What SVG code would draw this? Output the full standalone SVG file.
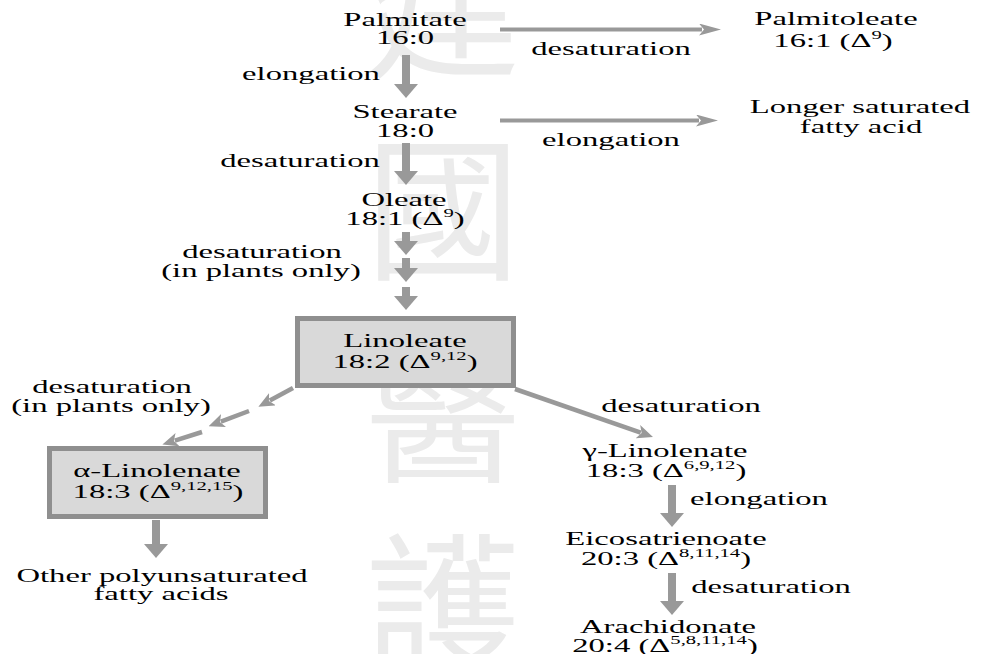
<svg xmlns="http://www.w3.org/2000/svg" width="981" height="654" viewBox="0 0 981 654">
<style>
.t{font-family:"Liberation Serif","Times New Roman",serif;font-size:19px;fill:#000;text-anchor:middle}
.sup{font-size:12px}
.wm{font-family:"Noto Sans CJK TC","Noto Sans CJK SC",sans-serif;font-size:155px;fill:#ebebeb;text-anchor:middle}
.box{fill:#d9d9d9;stroke:#8f8f8f;stroke-width:5}
.thick{stroke:#999;stroke-width:8;fill:none}
.thin{stroke:#999;stroke-width:4;fill:none}
.diag{stroke:#999;stroke-width:4.5;fill:none}
</style>
<defs>
<marker id="hThick" markerUnits="userSpaceOnUse" markerWidth="14" markerHeight="24" viewBox="0 0 14 24" refX="0" refY="12" orient="auto"><path d="M0,0 L14,12 L0,24 Z" fill="#999"/></marker>
<marker id="hThin" markerUnits="userSpaceOnUse" markerWidth="22" markerHeight="12" viewBox="0 0 22 12" refX="3" refY="6" orient="auto"><path d="M0,0 L22,6 L0,12 L5,6 Z" fill="#999"/></marker>
<marker id="hDiag" markerUnits="userSpaceOnUse" markerWidth="16" markerHeight="14" viewBox="0 0 16 14" refX="3" refY="7" orient="auto"><path d="M0,0 L16,7 L0,14 L4,7 Z" fill="#999"/></marker>
</defs>
<rect width="981" height="654" fill="#fff"/>
<g id="watermark">
<text class="wm" x="443" y="65">建</text>
<text class="wm" x="443" y="267">國</text>
<text class="wm" x="443" y="470">醫</text>
<text class="wm" x="443" y="664">護</text>
</g>
<g id="connectors">
<line class="thin" x1="500" y1="29.5" x2="702" y2="29.5" marker-end="url(#hThin)"/>
<line class="thin" x1="500" y1="120.5" x2="699" y2="120.5" marker-end="url(#hThin)"/>
<line class="thick" x1="406" y1="55" x2="406" y2="84" marker-end="url(#hThick)"/>
<line class="thick" x1="406" y1="143" x2="406" y2="171" marker-end="url(#hThick)"/>
<line class="thick" x1="406" y1="232" x2="406" y2="241" marker-end="url(#hThick)"/>
<line class="thick" x1="406" y1="258" x2="406" y2="268" marker-end="url(#hThick)"/>
<line class="thick" x1="406" y1="287" x2="406" y2="296" marker-end="url(#hThick)"/>
<line class="diag" x1="293" y1="388" x2="269.8" y2="400.6" marker-end="url(#hDiag)"/>
<line class="diag" x1="249" y1="411" x2="220.8" y2="421.6" marker-end="url(#hDiag)"/>
<line class="diag" x1="202" y1="432" x2="174.8" y2="440.6" marker-end="url(#hDiag)"/>
<line class="diag" x1="515" y1="389" x2="640.7" y2="432.7" marker-end="url(#hDiag)"/>
<line class="thick" x1="156" y1="520" x2="156" y2="544" marker-end="url(#hThick)"/>
<line class="thick" x1="672" y1="485" x2="672" y2="513" marker-end="url(#hThick)"/>
<line class="thick" x1="672" y1="573" x2="672" y2="601" marker-end="url(#hThick)"/>
<g id="edge-labels">
<text class="t" transform="translate(611,55) scale(1.72,1)">desaturation</text>
<text class="t" transform="translate(311,80) scale(1.72,1)">elongation</text>
<text class="t" transform="translate(611,146) scale(1.72,1)">elongation</text>
<text class="t" transform="translate(300,167) scale(1.72,1)">desaturation</text>
<text class="t" transform="translate(262,258) scale(1.72,1)">desaturation</text>
<text class="t" transform="translate(261,277) scale(1.72,1)">(in plants only)</text>
<text class="t" transform="translate(112,393) scale(1.72,1)">desaturation</text>
<text class="t" transform="translate(111,412) scale(1.72,1)">(in plants only)</text>
<text class="t" transform="translate(681,412) scale(1.72,1)">desaturation</text>
<text class="t" transform="translate(759,505) scale(1.72,1)">elongation</text>
<text class="t" transform="translate(771,593) scale(1.72,1)">desaturation</text>
</g>
</g>
<g id="palmitate">
<text class="t" transform="translate(405,26) scale(1.72,1)">Palmitate</text>
<text class="t" transform="translate(405,44) scale(1.72,1)">16:0</text>
</g>
<g id="palmitoleate">
<text class="t" transform="translate(836,25) scale(1.72,1)">Palmitoleate</text>
<text class="t" transform="translate(833,47) scale(1.72,1)">16:1 (Δ<tspan class="sup" dy="-8">9</tspan><tspan dy="8">)</tspan></text>
</g>
<g id="stearate">
<text class="t" transform="translate(405,118) scale(1.72,1)">Stearate</text>
<text class="t" transform="translate(405,137) scale(1.72,1)">18:0</text>
</g>
<g id="longer-saturated">
<text class="t" transform="translate(860,113) scale(1.72,1)">Longer saturated</text>
<text class="t" transform="translate(861,133) scale(1.72,1)">fatty acid</text>
</g>
<g id="oleate">
<text class="t" transform="translate(404,206) scale(1.72,1)">Oleate</text>
<text class="t" transform="translate(405,225) scale(1.72,1)">18:1 (Δ<tspan class="sup" dy="-8">9</tspan><tspan dy="8">)</tspan></text>
</g>
<g id="linoleate">
<rect class="box" x="297.5" y="318.5" width="216" height="67"/>
<text class="t" transform="translate(405,347) scale(1.72,1)">Linoleate</text>
<text class="t" transform="translate(405,368) scale(1.72,1)">18:2 (Δ<tspan class="sup" dy="-8">9,12</tspan><tspan dy="8">)</tspan></text>
</g>
<g id="alpha-linolenate">
<rect class="box" x="49.5" y="448.5" width="216" height="68"/>
<text class="t" transform="translate(157,477) scale(1.72,1)">α-Linolenate</text>
<text class="t" transform="translate(158,498) scale(1.72,1)">18:3 (Δ<tspan class="sup" dy="-8">9,12,15</tspan><tspan dy="8">)</tspan></text>
</g>
<g id="other-pufa">
<text class="t" transform="translate(162,582) scale(1.72,1)">Other polyunsaturated</text>
<text class="t" transform="translate(161,600) scale(1.72,1)">fatty acids</text>
</g>
<g id="gamma-linolenate">
<text class="t" transform="translate(665,457) scale(1.72,1)">γ-Linolenate</text>
<text class="t" transform="translate(666,477) scale(1.72,1)">18:3 (Δ<tspan class="sup" dy="-8">6,9,12</tspan><tspan dy="8">)</tspan></text>
</g>
<g id="eicosatrienoate">
<text class="t" transform="translate(666,545) scale(1.72,1)">Eicosatrienoate</text>
<text class="t" transform="translate(666,565) scale(1.72,1)">20:3 (Δ<tspan class="sup" dy="-8">8,11,14</tspan><tspan dy="8">)</tspan></text>
</g>
<g id="arachidonate">
<text class="t" transform="translate(668,633) scale(1.72,1)">Arachidonate</text>
<text class="t" transform="translate(665,652) scale(1.72,1)">20:4 (Δ<tspan class="sup" dy="-8">5,8,11,14</tspan><tspan dy="8">)</tspan></text>
</g>
</svg>
